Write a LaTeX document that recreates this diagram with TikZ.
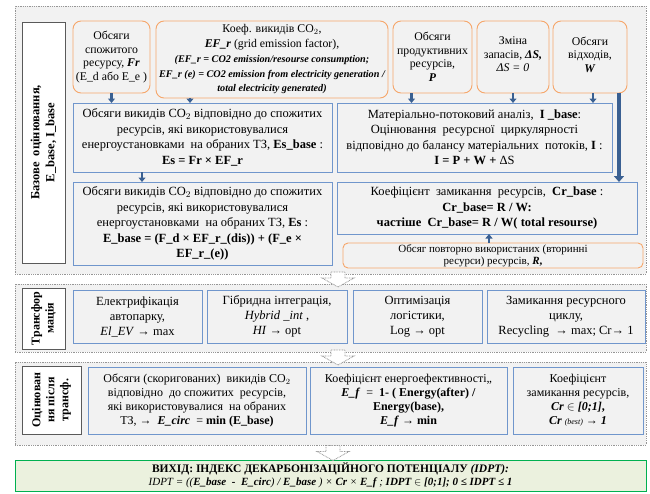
\documentclass[tikz,border=0pt]{standalone}
\usepackage{fontspec}
\setmainfont{Liberation Serif}
\usetikzlibrary{arrows.meta,calc}
\definecolor{bggray}{RGB}{242,242,242}
\definecolor{framegray}{RGB}{150,150,150}
\definecolor{labgray}{RGB}{90,90,90}
\definecolor{srcorange}{RGB}{246,166,106}
\definecolor{calcblue}{RGB}{112,150,204}
\definecolor{flowblue}{RGB}{58,96,146}
\definecolor{outgreen}{RGB}{0,176,80}
\definecolor{outfill}{RGB}{235,241,222}
\begin{document}
\begin{tikzpicture}[x=1pt,y=-1pt,inner sep=0pt,outer sep=0pt,
frame/.style={draw=framegray,fill=bggray,line width=0.9pt,dash pattern=on 0.9pt off 0.9pt,rectangle},
labbox/.style={draw=labgray,fill=white,line width=0.8pt,rectangle,font=\bfseries\fontsize{12.5}{15}\selectfont,align=center},
srcbox/.style={draw=srcorange,fill=bggray,line width=0.9pt,rectangle,rounded corners=8pt,align=center,font=\fontsize{11.8}{13.5}\selectfont},
calcbox/.style={draw=calcblue,fill=bggray,line width=0.9pt,rectangle,align=center,font=\fontsize{12.5}{15.5}\selectfont},
flow/.style={draw=flowblue,line width=2.6pt,-{Triangle[width=7pt,length=4.5pt]}},
bigflow/.style={draw=flowblue,line width=4.5pt,-{Triangle[width=10pt,length=6pt]}},
secarrow/.style={draw=framegray,fill=white,line width=0.8pt,dash pattern=on 0.8pt off 0.8pt}]
\useasboundingbox (0,0) rectangle (650,493);
% sections
\draw (330.5,140) node[frame,minimum width=631pt,minimum height=268pt] (base) {};
\draw (330.5,318) node[frame,minimum width=631pt,minimum height=68pt] (trans) {};
\draw (330.5,403.5) node[frame,minimum width=631pt,minimum height=83pt] (post) {};
\draw (330.5,475.5) node[draw=outgreen,fill=outfill,line width=1pt,minimum width=631pt,minimum height=31pt,align=center,font=\fontsize{11.5}{12.5}\selectfont] (out)
 {\textbf{ВИХІД: ІНДЕКС ДЕКАРБОНІЗАЦІЙНОГО ПОТЕНЦІАЛУ \textit{(IDPT):}}\\
 \fontsize{11}{12.5}\selectfont\textit{IDPT = ((\textbf{E\_base \ - \ E\_circ}) / \textbf{E\_base} ) × \textbf{Cr} × \textbf{E\_f} ; \textbf{IDPT $\in$ [0;1]; 0 ≤ IDPT ≤ 1}}};
% side labels
\draw (43.5,142.5) node[labbox,minimum width=43pt,minimum height=241pt] (lbase) {};
\node[rotate=90,align=center,font=\bfseries\fontsize{12.5}{15}\selectfont] (lbasetxt) at (lbase) {Базове \ оцінювання,\\E\_base, I\_base};
\draw (43.5,318.5) node[labbox,minimum width=43pt,minimum height=61pt] (ltrans) {};
\node[rotate=90,align=center,font=\bfseries\fontsize{12}{14}\selectfont] (ltranstxt) at (ltrans) {Трансфор\\мація};
\draw (51.5,400) node[labbox,minimum width=59pt,minimum height=68pt] (lpost) {};
\node[rotate=90,align=center,font=\bfseries\fontsize{12}{14}\selectfont] (lposttxt) at (lpost) {Оцінюван\\ня після\\трансф.};
% input data
\draw (111.5,57) node[srcbox,minimum width=77pt,minimum height=72pt] (fr) {Обсяги\\спожитого\\ресурсу, \textbf{\textit{Fr}}\\(E\_d або E\_e )};
\draw (272,59.5) node[srcbox,minimum width=232pt,minimum height=77pt,font=\fontsize{11.8}{14.5}\selectfont] (efr) {Коеф. викидів CO$_2$,\\\textbf{\textit{EF\_r}} (grid emission factor),\\[1pt]
 \fontsize{10.2}{14}\selectfont\bfseries\itshape (EF\_r = CO2 emission/resourse consumption;\\\fontsize{10.2}{14}\selectfont\bfseries\itshape EF\_r (e) = CO2 emission from electricity generation /\\\fontsize{10.2}{14}\selectfont\bfseries\itshape total electricity generated)};
\draw (432.5,57) node[srcbox,minimum width=79pt,minimum height=72pt] (prod) {Обсяги\\продуктивних\\ресурсів,\\\textbf{\textit{P}}};
\draw (513,57) node[srcbox,minimum width=72pt,minimum height=72pt,text depth=5pt] (ds) {Зміна\\запасів, \textbf{\textit{ΔS,}}\\\textit{ΔS = 0}};
\draw (590,57) node[srcbox,minimum width=74pt,minimum height=72pt,text depth=5pt] (w) {Обсяги\\відходів,\\\textbf{\textit{W}}};
% base assessment
\draw (202.5,137.5) node[calcbox,minimum width=259pt,minimum height=69pt] (esb) {Обсяги викидів CO$_2$ відповідно до спожитих\\ресурсів, які використовувалися\\енергоустановками \ на обраних ТЗ, \textbf{Es\_base} :\\\textbf{Es = Fr × EF\_r}};
\draw (202.5,223.5) node[calcbox,minimum width=259pt,minimum height=83pt] (eb) {Обсяги викидів CO$_2$ відповідно до спожитих\\ресурсів, які використовувалися\\енергоустановками \ на обраних ТЗ, \textbf{Es} :\\\textbf{E\_base = (F\_d × EF\_r\_(dis)) + (F\_e ×}\\\textbf{EF\_r\_(e))}};
\draw (474.5,137.5) node[calcbox,minimum width=275pt,minimum height=69pt] (mfa) {Матеріально-потоковий аналіз, \ \textbf{I \_base}:\\Оцінювання \ ресурсної \ циркулярності\\відповідно до балансу матеріальних \ потоків, \textbf{I} :\\\textbf{I = P + W +} ΔS};
\draw (487,208) node[calcbox,minimum width=300pt,minimum height=52pt] (cr) {Коефіцієнт \ замикання \ ресурсів, \ \textbf{Cr\_base} :\\\textbf{Cr\_base= R / W:}\\\textbf{частіше \ Cr\_base= R / W( total resourse)}};
\draw (493,255.5) node[srcbox,rounded corners=5pt,minimum width=300pt,minimum height=25pt,font=\fontsize{11}{12}\selectfont] (r) {Обсяг повторно використаних (вторинні\\ресурси) ресурсів, \textbf{\textit{R},}};
\draw[flow] (fr.south) -- (fr.south |- esb.north);
\draw[flow] ([xshift=-82pt]efr.south) -- ([xshift=-82pt]efr.south |- esb.north);
\draw[flow] ([xshift=-60.5pt]esb.south) -- ([xshift=-60.5pt]esb.south |- eb.north);
\draw[flow] ([xshift=-21pt]prod.south) -- ([xshift=-21pt]prod.south |- mfa.north);
\draw[flow] (ds.south) -- (ds.south |- mfa.north);
\draw[flow] ([xshift=3pt]w.south) -- ([xshift=3pt]w.south |- mfa.north);
\draw[bigflow] ([xshift=-8pt]w.south east) -- ([xshift=-8pt]w.south east |- cr.north);
\draw[flow] ([xshift=-4pt]r.north) -- ([xshift=-4pt]r.north |- cr.south);
% transformation
\draw (137.5,316.5) node[calcbox,minimum width=129pt,minimum height=53pt,font=\fontsize{12.5}{15}\selectfont] (ev) {Електрифікація\\автопарку,\\\textit{El\_EV} → max};
\draw (277,316.5) node[calcbox,minimum width=140pt,minimum height=53pt,font=\fontsize{12.5}{15}\selectfont] (hyb) {Гібридна інтеграція,\\\textit{Hybrid \_int} ,\\\textit{HI} → opt};
\draw (417.5,316.5) node[calcbox,minimum width=129pt,minimum height=53pt,font=\fontsize{12.5}{15}\selectfont] (logi) {Оптимізація\\логістики,\\Log → opt};
\draw (566,316.5) node[calcbox,minimum width=158pt,minimum height=53pt,font=\fontsize{12.5}{15}\selectfont] (rec) {Замикання ресурсного\\циклу,\\Recycling \ → max; Cr→ 1};
% after transformation
\draw (197,400.5) node[calcbox,minimum width=218pt,minimum height=67pt,font=\fontsize{12}{14}\selectfont] (ecirc) {Обсяги (скоригованих) \ викидів CO$_2$\\відповідно \ до спожитих \ ресурсів,\\які використовувалися \ на обраних\\ТЗ, → \ \textbf{\textit{E\_circ}} \ = \textbf{min (E\_base)}};
\draw (408.5,400.5) node[calcbox,minimum width=197pt,minimum height=67pt,font=\fontsize{12}{14}\selectfont] (eff) {Коефіцієнт енергоефективності,,\\\textbf{\textit{E\_f}} \ = \ \textbf{1- ( Energy(after) /}\\\textbf{Energy(base),}\\\textbf{\textit{E\_f} → min}};
\draw (578,400.5) node[calcbox,minimum width=130pt,minimum height=67pt,font=\fontsize{12}{14}\selectfont] (crb) {Коефіцієнт\\замикання ресурсів,\\\textbf{\textit{Cr}} $\in$ \textbf{\textit{[0;1]},}\\\textbf{\textit{Cr}} {\footnotesize\textit{(best)}} \textbf{→ \textit{1}}};
% links between sections
\coordinate (a1) at ([xshift=7.5pt]$(base.south)!0.5!(trans.north)$);
\coordinate (a2) at ([xshift=7.5pt]$(trans.south)!0.5!(post.north)$);
\coordinate (a3) at ([xshift=2.5pt]$(post.south)!0.5!(out.north)$);
\foreach \p in {a1,a2,a3}
  \draw[secarrow] (\p) ++(-7,-7) -- ++(14,0) -- ++(0,6) -- ++(9,0) -- ++(-16,9) -- ++(-16,-9) -- ++(9,0) -- cycle;
\end{tikzpicture}
\end{document}
